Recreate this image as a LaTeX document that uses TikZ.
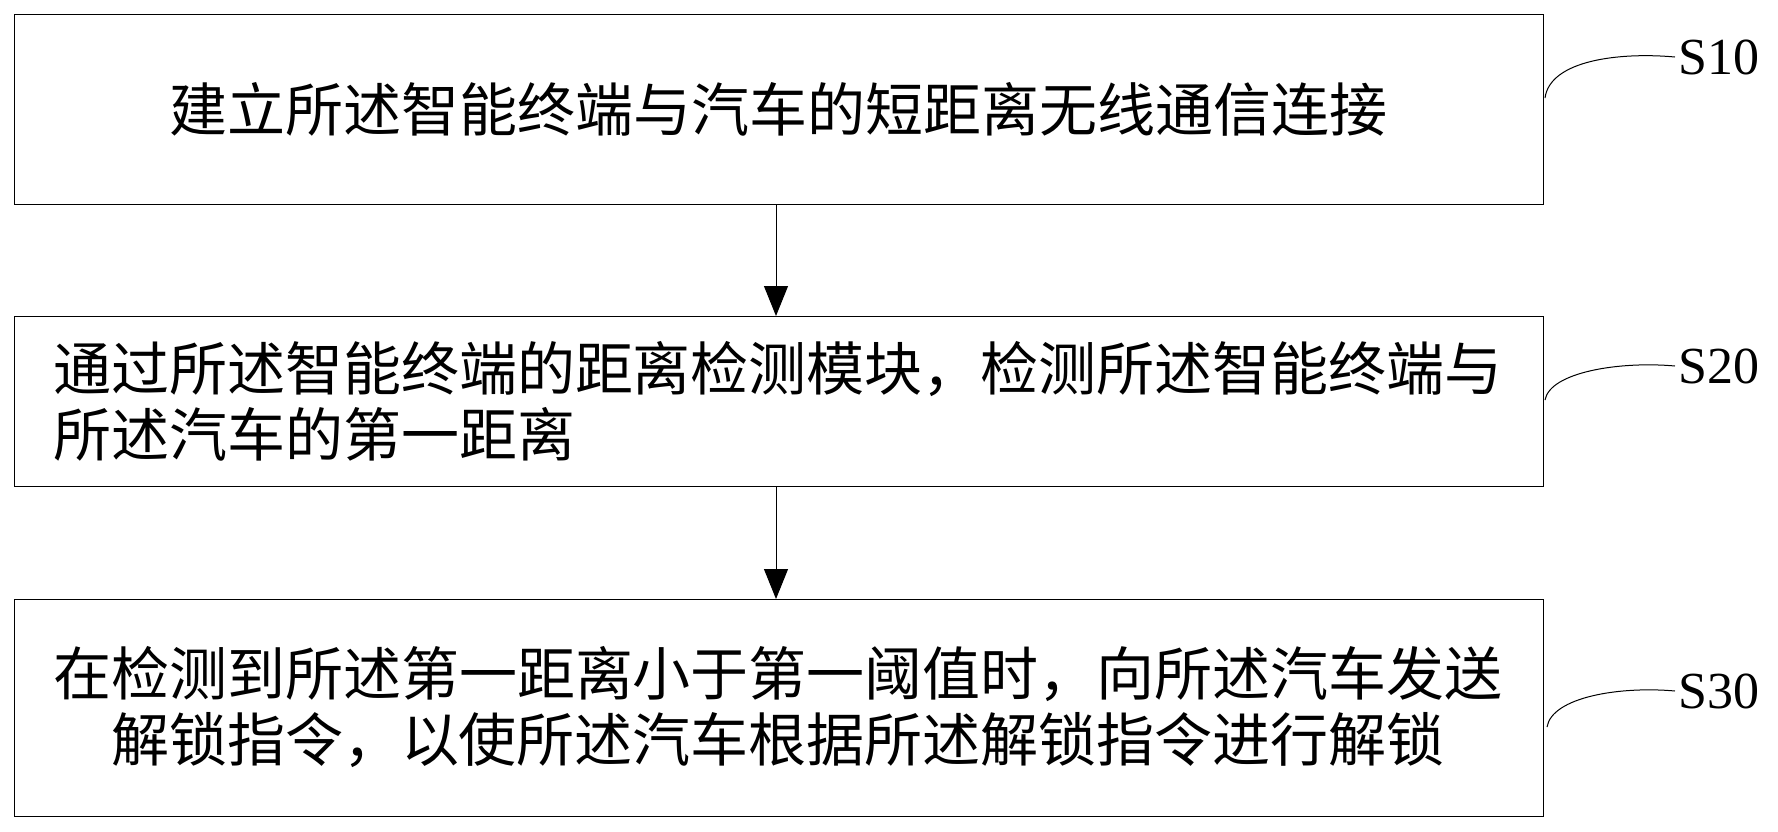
\documentclass[tikz,border=0pt]{standalone}
\usepackage{fontspec}
\usetikzlibrary{arrows.meta}
\setmainfont{Liberation Serif}
\newfontfamily\cjk{Noto Sans CJK SC}
\begin{document}
\begin{tikzpicture}[x=1pt,y=-1pt,
    stepbox/.style={draw,line width=1pt,inner sep=0pt},
    steptext/.style={font=\cjk\fontsize{58}{66}\selectfont},
    steplabel/.style={font=\fontsize{52}{60}\selectfont,anchor=west},
    flow/.style={-{Triangle[width=24pt,length=30pt]},line width=1pt}]
  \useasboundingbox (0,0) rectangle (1778,831);
  \draw[stepbox] (14,14) rectangle (1543,204);
  \draw[stepbox] (14,316) rectangle (1543,486);
  \draw[stepbox] (14,599) rectangle (1543,816);
  \node[steptext] (s10) at (778,109) {建立所述智能终端与汽车的短距离无线通信连接};
  \node[steptext,align=left] (s20) at (778,401) {通过所述智能终端的距离检测模块，检测所述智能终端与\\所述汽车的第一距离};
  \node[steptext,align=center] (s30) at (778,707) {在检测到所述第一距离小于第一阈值时，向所述汽车发送\\解锁指令，以使所述汽车根据所述解锁指令进行解锁};
  \coordinate (a1) at (776,204);
  \coordinate (b1) at (776,316);
  \coordinate (a2) at (776,486);
  \coordinate (b2) at (776,599);
  \draw[flow] (a1) -- (b1);
  \draw[flow] (a2) -- (b2);
  % step labels
  \node[steplabel] (l10) at (1675,57) {S10};
  \node[steplabel] (l20) at (1675,366) {S20};
  \node[steplabel] (l30) at (1675,691) {S30};
  \draw[line width=1pt] (1545,98) .. controls (1550,60) and (1620,52) .. (l10.west);
  \draw[line width=1pt] (1545,400) .. controls (1550,372) and (1620,361) .. (l20.west);
  \draw[line width=1pt] (1547,727) .. controls (1552,697) and (1620,686) .. (l30.west);
\end{tikzpicture}
\end{document}
